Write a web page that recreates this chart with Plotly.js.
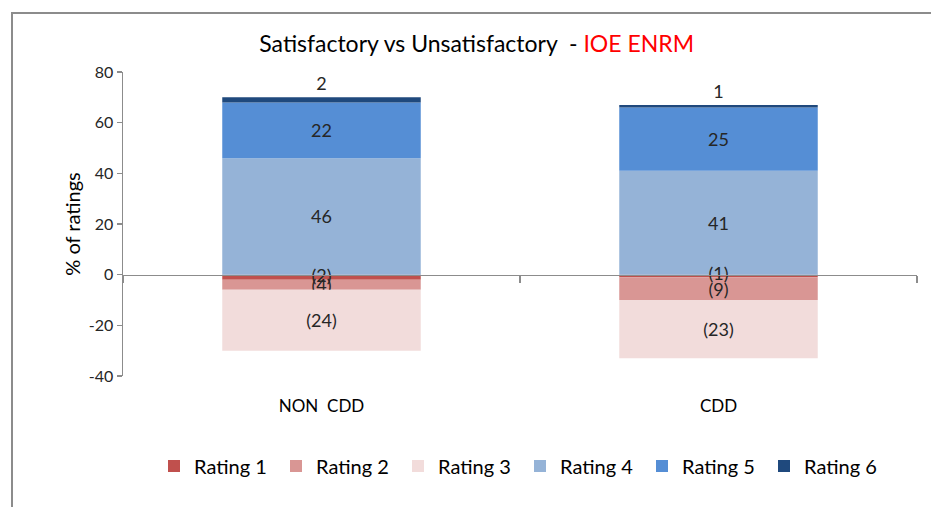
<!DOCTYPE html>
<html>
<head>
<meta charset="utf-8">
<script src="https://cdn.plot.ly/plotly-3.0.1.min.js"></script>
<style>
  body { margin: 0; background: #fff; }
  #frame { position: absolute; left: 11px; top: 12px; width: 940px; height: 520px;
           border-left: 2px solid #8c8c8c; border-top: 2px solid #8c8c8c; }
  #chart { position: absolute; left: 0; top: 0; width: 931px; height: 507px; }
</style>
</head>
<body>
<div id="frame"></div>
<div id="chart"></div>
<script>
// categories and rating shares (% of ratings), negatives = unsatisfactory
var groups = ['NON&nbsp;&nbsp;CDD', 'CDD'];
var rating1 = [-2, -1];
var rating2 = [-4, -9];
var rating3 = [-24, -23];
var rating4 = [46, 41];
var rating5 = [22, 25];
var rating6 = [2, 1];
var yTicks = [-40, -20, 0, 20, 40, 60, 80];

var names = ['Rating 1', 'Rating 2', 'Rating 3', 'Rating 4', 'Rating 5', 'Rating 6'];
var colors = ['#C0504D', '#D99694', '#F2DCDB', '#95B3D7', '#558ED5', '#1F497D'];
var series = [rating1, rating2, rating3, rating4, rating5, rating6];

function label(v) {
  return v < 0 ? '(' + (-v) + ')' : String(v);
}

var font = 'Lato, "Open Sans", sans-serif';
var labelFont = { family: font, size: 18, color: '#262626' };

var data = series.map(function (vals, i) {
  return {
    type: 'bar',
    x: groups,
    y: vals,
    name: names[i],
    marker: { color: colors[i] },
    // rating 1 labels go on a text layer on top (the thin bar is covered by rating 2)
    text: i == 0 ? null : vals.map(label),
    textposition: i == 5 ? 'outside' : 'inside',
    insidetextanchor: 'middle',
    constraintext: 'none',
    textangle: 0,
    textfont: labelFont,
    hoverinfo: 'none'
  };
});

data.push({
  type: 'scatter',
  mode: 'text',
  x: groups,
  y: rating1.map(function (v) { return v / 2; }),
  text: rating1.map(label),
  textposition: 'middle center',
  textfont: labelFont,
  showlegend: false,
  hoverinfo: 'none',
  cliponaxis: false
});

var layout = {
  width: 931,
  height: 507,
  paper_bgcolor: 'rgba(0,0,0,0)',
  plot_bgcolor: 'rgba(0,0,0,0)',
  margin: { l: 123, r: 14, t: 72, b: 131 },
  barmode: 'relative',
  bargap: 0.5,
  font: { family: font, color: '#262626' },
  title: {
    text: 'Satisfactory vs Unsatisfactory&nbsp;&nbsp;- <span style="color:#FF0000">IOE ENRM</span>',
    font: { family: font, size: 23, color: '#000' },
    x: 0.512, xanchor: 'center',
    y: 0.913, yanchor: 'middle'
  },
  xaxis: {
    type: 'category',
    anchor: 'free',
    position: 1 / 3,
    showline: true,
    linecolor: '#8c8c8c',
    linewidth: 1.5,
    ticks: 'outside',
    tickson: 'boundaries',
    ticklen: 7,
    tickcolor: '#8c8c8c',
    tickwidth: 1.5,
    showgrid: false,
    zeroline: false,
    ticklabelstandoff: 115,
    tickfont: { family: font, size: 17, color: '#000' }
  },
  yaxis: {
    range: [-40, 80],
    tickmode: 'array',
    tickvals: yTicks,
    ticktext: yTicks.map(String),
    showline: true,
    linecolor: '#8c8c8c',
    linewidth: 1.5,
    ticks: 'outside',
    ticklen: 5,
    tickcolor: '#8c8c8c',
    tickwidth: 1.5,
    showgrid: false,
    zeroline: false,
    tickfont: { family: font, size: 16, color: '#262626' },
    title: { text: '% of ratings', font: { family: font, size: 20, color: '#000' }, standoff: 3 }
  },
  legend: {
    orientation: 'h',
    traceorder: 'normal',
    x: 0.5, xanchor: 'center',
    y: -0.296, yanchor: 'middle',
    entrywidth: 77,
    entrywidthmode: 'pixels',
    font: { family: font, size: 20, color: '#000' }
  },
  showlegend: true
};

Plotly.newPlot('chart', data, layout, { displayModeBar: false, staticPlot: true });
</script>
</body>
</html>
